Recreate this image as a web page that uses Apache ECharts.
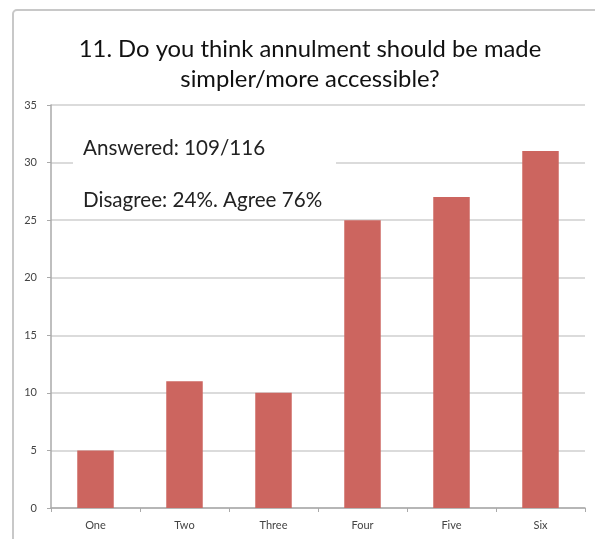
<!DOCTYPE html>
<html>
<head>
<meta charset="utf-8">
<script src="https://cdn.jsdelivr.net/npm/echarts@6/dist/echarts.min.js"></script>
<style>html,body{margin:0;padding:0;background:#fff;}#c{width:595px;height:539px;}</style>
</head>
<body>
<div id="c"></div>
<script>
const categories = ['One', 'Two', 'Three', 'Four', 'Five', 'Six'];
const values = [5, 11, 10, 25, 27, 31];
const titleText = '11. Do you think annulment should be made\nsimpler/more accessible?';
const noteLines = ['Answered: 109/116', 'Disagree: 24%. Agree 76%'];

const chart = echarts.init(document.getElementById('c'));
chart.setOption({
  animation: false,
  backgroundColor: '#fff',
  title: {
    text: titleText,
    left: 305, top: 29, textAlign: 'center',
    textStyle: { fontFamily: 'Lato', fontSize: 23.8, fontWeight: 'normal', color: '#111', lineHeight: 30 }
  },
  grid: { left: 51, right: 10, top: 105, bottom: 31, containLabel: false },
  xAxis: {
    type: 'category', data: categories,
    axisLine: { lineStyle: { color: '#aaa', width: 1.5 } },
    axisTick: { show: true, length: 4, alignWithLabel: false, lineStyle: { color: '#aaa' } },
    axisLabel: { fontFamily: 'Lato', fontSize: 11, color: '#444', margin: 12 }
  },
  yAxis: {
    type: 'value', min: 0, max: 35, interval: 5,
    axisLine: { show: true, lineStyle: { color: '#aaa', width: 1.5 } },
    axisTick: { show: true, length: 4, lineStyle: { color: '#aaa' } },
    splitLine: { lineStyle: { color: '#cfcfcf', width: 1.5 } },
    axisLabel: { fontFamily: 'Lato', fontSize: 11, color: '#444', margin: 14 }
  },
  series: [{
    type: 'bar', data: values, barWidth: '41%',
    itemStyle: { color: '#cc655f' }
  }],
  graphic: [
    { type: 'rect', shape: { x: 13, y: 10, width: 600, height: 560, r: 4 }, style: { fill: 'none', stroke: '#c8c8c8', lineWidth: 2 }, z: 0, silent: true },
    { type: 'rect', shape: { x: 73, y: 126, width: 263, height: 88 }, style: { fill: '#fff' }, z: 100, silent: true },
    { type: 'text', x: 83, y: 148, style: { text: noteLines[0], fontFamily: 'Lato', fontSize: 20.6, fill: '#222', textVerticalAlign: 'middle' }, z: 101 },
    { type: 'text', x: 83, y: 200, style: { text: noteLines[1], fontFamily: 'Lato', fontSize: 20.6, fill: '#222', textVerticalAlign: 'middle' }, z: 101 }
  ]
});
</script>
</body>
</html>
